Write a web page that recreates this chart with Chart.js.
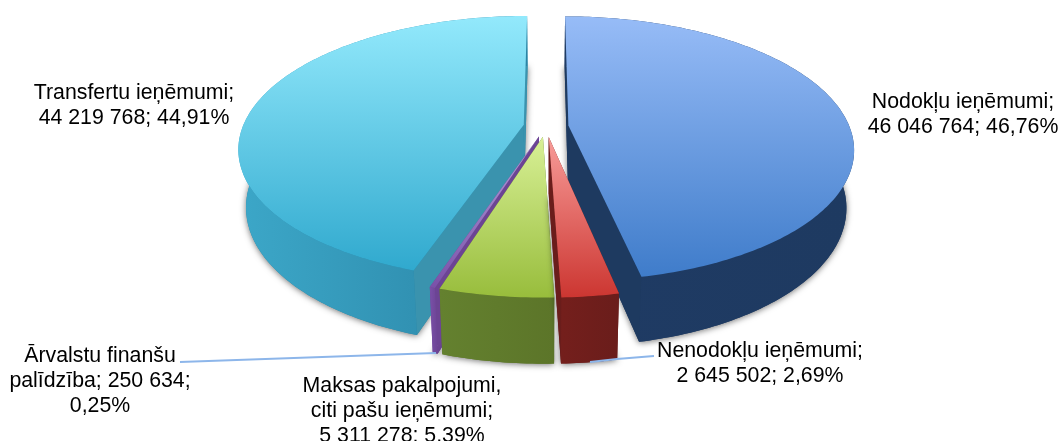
<!DOCTYPE html>
<html>
<head>
<meta charset="utf-8">
<style>
  html, body { margin: 0; padding: 0; background: #fff; }
  canvas { display: block; }
</style>
<script src="https://cdn.jsdelivr.net/npm/chart.js@4"></script>
</head>
<body>
<canvas id="myChart" width="1062" height="441"></canvas>
<script>
'use strict'
// data
let categories = ['Nodokļu ieņēmumi', 'Nenodokļu ieņēmumi', 'Maksas pakalpojumi, citi pašu ieņēmumi', 'Ārvalstu finanšu palīdzība', 'Transfertu ieņēmumi'];
let amounts = [46046764, 2645502, 5311278, 250634, 44219768];
let labelLines = [
  ['Nodokļu ieņēmumi;', '46 046 764; 46,76%'],
  ['Nenodokļu ieņēmumi;', '2 645 502; 2,69%'],
  ['Maksas pakalpojumi,', 'citi pašu ieņēmumi;', '5 311 278; 5,39%'],
  ['Ārvalstu finanšu', 'palīdzība; 250 634;', '0,25%'],
  ['Transfertu ieņēmumi;', '44 219 768; 44,91%']
];

// colours: top gradient start/end, side wall
let topFrom = ['#97bcf7', '#f89c99', '#d8f096', '#b5a3dc', '#93e9fc'];
let topTo = ['#3f7cca', '#cc3631', '#98bd3c', '#7a50a8', '#30a9ce'];
let wallLeft = ['#1f3b64', '#741f1c', '#64812f', '#7a50a8', '#3ca7c8'];
let wallRight = ['#1e3a61', '#6a1d1b', '#5c7529', '#6c4494', '#2a84a5'];
let faceColor = ['#1e3a60', '#6a1d1b', '#5c7529', '#6c4494', '#3a93ae'];

// where the label block sits: centre x, first baseline
let labelX = [963, 760, 402, 100, 134];
let labelY = [108, 357, 392, 362, 99];

// the tilted disc
let cx = 546, cy = 126.5;
let Rx = 281, Ry = 128.5, persp = 0.175;
let depth = 56.4, bottomX = 0.975, bottomY = 1.057;

function project(u, v, bottom) {
  let w = 1 - persp * v;
  let x = Rx * u / w;
  let y = Ry * v / w;
  if (bottom) {
    return [cx + x * bottomX, cy + depth + y * bottomY];
  }
  return [cx + x, cy + y];
}

// one point of the slice, angle in canvas radians, r 0..1
function slicePoint(arc, angle, r, bottom) {
  let mid = (arc.startAngle + arc.endAngle) / 2;
  let off = arc.options.offset / arc.outerRadius;
  return project(r * Math.cos(angle) + off * Math.cos(mid), r * Math.sin(angle) + off * Math.sin(mid), bottom);
}

function rim(arc, bottom) {
  let pts = [];
  let steps = Math.max(4, Math.ceil((arc.endAngle - arc.startAngle) * 60));
  for (let i = 0; i <= steps; i++) {
    let a = arc.startAngle + (arc.endAngle - arc.startAngle) * i / steps;
    pts.push(slicePoint(arc, a, 1, bottom));
  }
  return pts;
}

function fillPoly(ctx, pts, style) {
  ctx.beginPath();
  pts.forEach((p, i) => i ? ctx.lineTo(p[0], p[1]) : ctx.moveTo(p[0], p[1]));
  ctx.closePath();
  ctx.fillStyle = style;
  ctx.fill();
}

function drawSlice(ctx, arc, i) {
  let topRim = rim(arc, false);
  let botRim = rim(arc, true);
  let apexTop = slicePoint(arc, arc.startAngle, 0, false);
  let apexBot = slicePoint(arc, arc.startAngle, 0, true);

  // bottom cap with the soft shadow
  ctx.save();
  ctx.shadowColor = 'rgba(0,0,0,0.55)';
  ctx.shadowBlur = 6;
  ctx.shadowOffsetY = 1;
  fillPoly(ctx, [apexBot].concat(botRim), wallRight[i]);
  ctx.restore();

  // the two cut faces
  fillPoly(ctx, [apexTop, topRim[0], botRim[0], apexBot], faceColor[i]);
  let last = topRim.length - 1;
  fillPoly(ctx, [apexTop, topRim[last], botRim[last], apexBot], faceColor[i]);

  // outer wall
  let xs = topRim.concat(botRim).map(p => p[0]);
  let wall = ctx.createLinearGradient(Math.min(...xs), 0, Math.max(...xs), 0);
  wall.addColorStop(0, wallLeft[i]);
  wall.addColorStop(1, wallRight[i]);
  fillPoly(ctx, topRim.concat(botRim.slice().reverse()), wall);

  // top face
  let ys = topRim.concat([apexTop]).map(p => p[1]);
  let grad = ctx.createLinearGradient(0, Math.min(...ys), 0, Math.max(...ys));
  grad.addColorStop(0, topFrom[i]);
  grad.addColorStop(1, topTo[i]);
  fillPoly(ctx, [apexTop].concat(topRim), grad);
}

let pie3d = {
  id: 'pie3d',
  beforeDatasetDraw(chart, args) {
    let ctx = chart.ctx;
    let arcs = chart.getDatasetMeta(args.index).data;
    // back slices first
    [0, 4, 3, 2, 1].forEach(i => drawSlice(ctx, arcs[i], i));
    return false;
  },
  afterDraw(chart) {
    let ctx = chart.ctx;
    ctx.save();
    // leader lines
    ctx.strokeStyle = '#8db6ea';
    ctx.lineWidth = 2;
    ctx.beginPath();
    ctx.moveTo(180, 362);
    ctx.lineTo(436, 353);
    ctx.moveTo(590, 362);
    ctx.lineTo(617, 359);
    ctx.lineTo(654, 356);
    ctx.stroke();
    // labels
    ctx.fillStyle = '#000';
    ctx.font = '21.3px "Liberation Sans"';
    ctx.textAlign = 'center';
    ctx.textBaseline = 'alphabetic';
    labelLines.forEach((lines, i) => {
      lines.forEach((line, n) => ctx.fillText(line, labelX[i], labelY[i] + n * 24.8));
    });
    ctx.restore();
  }
};

new Chart(document.getElementById('myChart').getContext('2d'), {
  type: 'pie',
  data: {
    labels: categories,
    datasets: [{ data: amounts, offset: 17, borderWidth: 0 }]
  },
  options: {
    responsive: false,
    animation: false,
    plugins: { legend: { display: false }, tooltip: { enabled: false } }
  },
  plugins: [pie3d]
});
</script>
</body>
</html>
